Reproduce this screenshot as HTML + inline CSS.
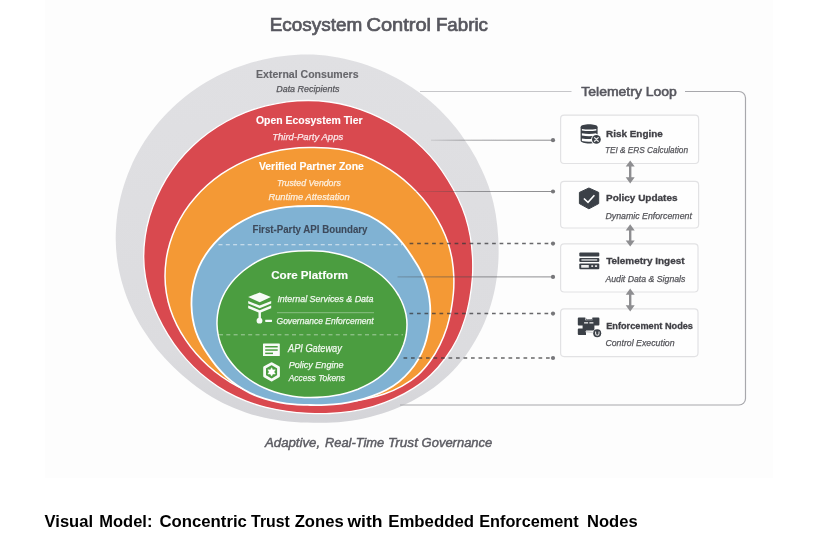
<!DOCTYPE html>
<html lang="en">
<head>
<meta charset="utf-8">
<title>Ecosystem Control Fabric</title>
<style>
html,body{margin:0;padding:0;background:#fff;}
body{width:838px;height:547px;overflow:hidden;font-family:"Liberation Sans",sans-serif;}
svg{display:block;}
</style>
</head>
<body>
<svg width="838" height="547" viewBox="0 0 838 547">
<defs><linearGradient id="gg" x1="0" y1="0" x2="0" y2="1"><stop offset="0" stop-color="#e0e0e3"/><stop offset=".8" stop-color="#dcdcdf"/><stop offset="1" stop-color="#d4d4d8"/></linearGradient><filter id="soft" x="-2%" y="-2%" width="104%" height="104%"><feGaussianBlur stdDeviation="0.4"/></filter><filter id="soft0" x="-2%" y="-20%" width="104%" height="140%"><feGaussianBlur stdDeviation="0.2"/></filter></defs>
<rect x="45" y="0" width="728" height="478" fill="#fdfdfd"/>
<g filter="url(#soft)">
<path d="M498.3 238.6C498.7 246.6 498.8 254.7 498.3 262.8C497.8 270.9 496.8 279.1 495.2 287.2C493.7 295.2 491.5 303.3 488.8 311.2C486.1 319 482.8 326.9 478.8 334.3C474.9 341.8 470.4 349.1 465.4 355.9C460.3 362.7 454.7 369.3 448.5 375.2C442.3 381.1 435.5 386.5 428.4 391.3C421.3 396.1 413.8 400.4 406 404.1C398.3 407.8 390.3 410.9 382.2 413.6C374.1 416.2 365.7 418.2 357.4 419.7C349 421.2 340.6 422.1 332.2 422.6C323.8 423 315.3 422.9 307 422.6C298.7 422.3 290.3 421.8 282.1 420.7C273.8 419.6 265.6 418.2 257.6 416C249.6 413.9 241.7 411.1 234 407.9C226.4 404.8 219 401.1 211.9 396.9C204.9 392.7 198.1 388 191.7 383C185.3 378 179.2 372.6 173.4 367C167.6 361.3 162.1 355.4 157 349.2C152 342.9 147.3 336.4 143 329.6C138.8 322.8 134.9 315.7 131.6 308.5C128.2 301.2 125.3 293.7 123 286C120.7 278.4 118.8 270.5 117.6 262.6C116.4 254.7 115.7 246.6 115.7 238.6C115.7 230.6 116.3 222.5 117.3 214.6C118.4 206.6 120.1 198.7 122.2 191C124.4 183.2 127.1 175.6 130.3 168.2C133.4 160.8 137.2 153.5 141.3 146.6C145.5 139.7 150.2 132.9 155.2 126.6C160.3 120.2 165.8 114.2 171.7 108.5C177.6 102.8 183.9 97.5 190.5 92.6C197.1 87.7 204.1 83.3 211.3 79.3C218.6 75.2 226.1 71.7 233.8 68.6C241.5 65.5 249.4 62.9 257.5 60.9C265.5 58.8 273.8 57.2 282 56.2C290.3 55.1 298.7 54.6 307 54.6C315.3 54.6 323.7 55.2 331.9 56.4C340.2 57.6 348.4 59.4 356.3 61.7C364.3 63.9 372.1 66.8 379.7 70C387.2 73.2 394.6 76.9 401.7 81C408.7 85.1 415.6 89.6 422.1 94.5C428.5 99.4 434.7 104.8 440.4 110.4C446.1 116.1 451.5 122.1 456.5 128.4C461.4 134.7 465.9 141.4 470.1 148.1C474.3 154.9 478.1 161.9 481.5 169.2C484.9 176.4 488 183.8 490.3 191.4C492.7 199 494.5 206.8 495.8 214.7C497.1 222.6 497.9 230.6 498.3 238.6Z" fill="url(#gg)"/>
<path d="M472.5 256.9C472.9 263.7 472.8 270.7 472.4 277.6C471.9 284.5 471 291.4 469.8 298.3C468.5 305.2 467 312.3 464.9 319.1C462.8 325.9 460.2 332.8 457 339.3C453.8 345.8 449.9 352.1 445.5 358C441.2 363.9 436.3 369.7 430.9 374.7C425.6 379.8 419.5 384.3 413.3 388.4C407.1 392.4 400.5 395.9 393.7 398.9C387 401.9 380 404.5 372.9 406.6C365.9 408.6 358.7 410.2 351.5 411.4C344.3 412.5 337 413.2 329.8 413.5C322.6 413.9 315.3 413.7 308.2 413.3C301.1 412.9 293.9 412.3 286.9 411.3C279.9 410.3 272.9 409 266 407.3C259.1 405.6 252.3 403.5 245.7 400.9C239.1 398.4 232.7 395.3 226.5 391.9C220.4 388.5 214.5 384.5 209 380.3C203.4 376.1 198.1 371.5 193.2 366.6C188.3 361.8 183.6 356.6 179.4 351.2C175.1 345.8 171.3 340.1 167.7 334.3C164.1 328.5 160.8 322.5 157.9 316.3C155 310.2 152.3 303.8 150.3 297.3C148.2 290.8 146.6 284.1 145.5 277.4C144.4 270.6 143.7 263.7 143.7 256.9C143.7 250.1 144.2 243.2 145.2 236.4C146.2 229.6 147.7 222.9 149.6 216.3C151.6 209.8 154 203.3 156.8 197C159.6 190.7 162.8 184.6 166.3 178.7C169.9 172.8 173.9 167.1 178.2 161.7C182.6 156.3 187.3 151.1 192.4 146.3C197.4 141.5 202.8 137 208.5 132.8C214.1 128.7 220.1 124.9 226.3 121.5C232.5 118.1 238.9 115 245.5 112.4C252.1 109.8 258.9 107.6 265.8 105.8C272.7 104.1 279.8 102.7 286.8 101.8C293.9 100.9 301.1 100.5 308.2 100.5C315.3 100.5 322.5 101 329.6 102C336.6 103 343.6 104.5 350.4 106.4C357.3 108.3 364 110.7 370.5 113.4C377 116.1 383.3 119.3 389.4 122.8C395.4 126.2 401.3 130.1 406.8 134.3C412.4 138.5 417.6 143.1 422.5 147.9C427.4 152.7 432 157.8 436.3 163.2C440.5 168.5 444.3 174.2 447.9 180C451.5 185.8 454.8 191.7 457.8 197.8C460.7 203.9 463.4 210.2 465.5 216.7C467.5 223.1 469.1 229.8 470.3 236.5C471.4 243.2 472.1 250.1 472.5 256.9Z" fill="#d9484f" stroke="#fff" stroke-width="1.3"/>
<path d="M453.8 276.3C454 281.9 453.9 287.6 453.4 293.3C452.9 299 452.1 304.7 451 310.5C449.9 316.2 448.6 322 446.8 327.7C444.9 333.4 442.7 339.2 440 344.7C437.3 350.2 434.1 355.7 430.4 360.8C426.7 365.9 422.6 370.9 417.8 375.1C413.1 379.3 407.5 383 401.9 386.1C396.3 389.3 390.3 391.8 384.2 394C378.1 396.1 371.8 397.7 365.5 399C359.2 400.3 352.8 401 346.5 401.6C340.2 402.1 333.9 402.2 327.6 402.3C321.4 402.4 315.2 402.2 309 402C302.8 401.8 296.7 401.7 290.5 401.1C284.4 400.4 278.3 399.5 272.3 398.2C266.3 396.9 260.3 395.4 254.6 393.4C248.8 391.5 243.1 389.2 237.7 386.4C232.3 383.7 227.2 380.5 222.3 377C217.4 373.6 212.7 369.9 208.4 366C204 362 199.9 357.9 196.1 353.5C192.3 349.2 188.8 344.6 185.6 339.8C182.4 335.1 179.4 330.2 176.9 325.1C174.4 320.1 172.1 314.8 170.4 309.5C168.6 304.1 167.3 298.6 166.4 293.1C165.5 287.5 165 281.9 165 276.3C165 270.7 165.4 265.1 166.2 259.5C167 253.9 168.3 248.4 169.9 243C171.5 237.6 173.6 232.2 176 227C178.4 221.9 181.2 216.8 184.3 211.9C187.4 207.1 190.9 202.4 194.8 198C198.6 193.5 202.7 189.3 207.2 185.3C211.6 181.3 216.4 177.6 221.3 174.2C226.3 170.8 231.6 167.6 237 164.8C242.4 162 248.1 159.5 253.9 157.4C259.7 155.3 265.7 153.4 271.7 152C277.8 150.5 284 149.4 290.2 148.7C296.4 148 302.7 147.7 309 147.6C315.3 147.5 321.6 147.5 327.9 148C334.2 148.4 340.5 149.1 346.6 150.5C352.7 151.9 358.7 154 364.5 156.3C370.3 158.7 375.9 161.4 381.2 164.4C386.6 167.4 391.8 170.7 396.6 174.2C401.5 177.8 406.1 181.6 410.5 185.7C414.8 189.7 418.9 194 422.7 198.4C426.4 202.9 429.9 207.6 433 212.4C436.2 217.2 439.1 222.2 441.6 227.3C444.1 232.4 446.3 237.6 448.1 243C449.8 248.4 451.1 253.9 452.1 259.5C453 265 453.6 270.7 453.8 276.3Z" fill="#f49935" stroke="#fff" stroke-width="1.5"/>
<path d="M430.1 305.5C430.4 309.9 430.3 314.3 430 318.8C429.6 323.2 428.9 327.7 428 332.2C427.1 336.7 426 341.3 424.4 345.7C422.8 350.2 421 354.7 418.5 358.9C416.1 363.1 413.2 367.2 409.9 371C406.7 374.8 403.1 378.4 399.1 381.6C395.2 384.8 390.7 387.6 386.2 390C381.6 392.4 376.8 394.4 371.9 396.2C367 398 362 399.5 356.9 400.7C351.8 401.9 346.7 402.9 341.5 403.6C336.3 404.2 331.1 404.6 325.9 404.8C320.7 405.1 315.5 405.1 310.3 405C305.1 404.9 299.9 404.9 294.8 404.4C289.6 404 284.4 403.4 279.4 402.4C274.3 401.4 269.3 400.2 264.4 398.7C259.5 397.1 254.7 395.3 250.2 393.1C245.7 390.9 241.4 388.3 237.3 385.5C233.3 382.7 229.4 379.6 225.9 376.3C222.4 373.1 219.2 369.5 216.2 365.9C213.3 362.3 210.6 358.6 208.1 354.8C205.5 351 203.1 347.3 201.1 343.3C199 339.4 197.2 335.3 195.8 331.2C194.4 327 193.4 322.7 192.7 318.5C192 314.2 191.6 309.8 191.5 305.5C191.4 301.2 191.6 296.8 192.1 292.4C192.6 288.1 193.4 283.7 194.6 279.4C195.8 275.2 197.3 270.9 199.1 266.7C201 262.6 203.2 258.5 205.8 254.6C208.3 250.7 211.2 247 214.4 243.4C217.6 239.9 221.1 236.5 224.8 233.3C228.5 230.2 232.5 227.2 236.7 224.5C240.9 221.9 245.3 219.3 249.9 217.2C254.4 215 259.3 213.2 264.2 211.7C269.1 210.2 274.2 209.1 279.3 208.2C284.4 207.3 289.6 206.8 294.7 206.4C299.9 206 305.1 206 310.3 206C315.5 206 320.7 205.9 325.9 206.1C331.1 206.4 336.3 206.8 341.4 207.6C346.6 208.5 351.7 209.7 356.6 211.2C361.5 212.8 366.4 214.5 370.9 216.8C375.4 219.1 379.8 221.9 383.7 224.8C387.7 227.8 391.4 231.1 394.8 234.5C398.2 238 401.2 241.7 404.1 245.3C406.9 249 409.5 252.8 411.9 256.6C414.4 260.4 416.9 264.1 419 267.9C421.1 271.8 423 275.8 424.6 279.9C426.1 284 427.3 288.2 428.3 292.5C429.2 296.8 429.8 301.1 430.1 305.5Z" fill="#80b2d3" stroke="#fff" stroke-width="1.8"/>
<path d="M407 324.4C407 327.7 406.7 331.1 406.2 334.5C405.6 337.8 404.8 341.1 403.7 344.3C402.5 347.5 401.2 350.7 399.5 353.8C397.9 356.9 396 359.9 393.9 362.8C391.8 365.6 389.3 368.4 386.7 371C384.1 373.5 381.2 375.9 378.2 378.1C375.1 380.3 371.8 382.4 368.5 384.2C365.1 386.1 361.5 387.7 357.9 389.2C354.2 390.6 350.4 391.9 346.6 392.9C342.7 394 338.8 394.9 334.8 395.6C330.8 396.3 326.8 396.8 322.7 397.1C318.7 397.5 314.6 397.6 310.5 397.6C306.4 397.6 302.3 397.4 298.3 397C294.3 396.6 290.2 395.9 286.3 395.1C282.4 394.3 278.5 393.2 274.7 392C271 390.8 267.3 389.4 263.8 387.8C260.2 386.2 256.8 384.4 253.6 382.4C250.4 380.4 247.4 378.3 244.5 376C241.7 373.7 239 371.3 236.5 368.8C234.1 366.2 231.8 363.6 229.8 360.8C227.7 358.1 225.9 355.2 224.4 352.3C222.8 349.3 221.5 346.3 220.4 343.3C219.4 340.2 218.5 337.1 218 333.9C217.4 330.8 217.1 327.6 217 324.4C216.9 321.2 217.1 318 217.5 314.8C217.9 311.6 218.6 308.4 219.5 305.2C220.4 302.1 221.6 298.9 223.1 295.9C224.6 292.8 226.3 289.8 228.3 286.9C230.3 284 232.6 281.2 235 278.6C237.5 275.9 240.2 273.4 243.1 271C246 268.6 249.1 266.4 252.4 264.3C255.7 262.3 259.1 260.4 262.8 258.8C266.4 257.2 270.2 255.9 274.1 254.8C277.9 253.7 282 252.9 286 252.3C290 251.7 294.1 251.3 298.2 251C302.3 250.8 306.4 250.7 310.5 250.7C314.6 250.7 318.7 250.9 322.8 251.3C326.8 251.7 330.9 252.4 334.8 253.2C338.7 254 342.7 255.1 346.4 256.3C350.2 257.5 353.9 259 357.5 260.6C361 262.1 364.4 263.9 367.7 265.8C371 267.7 374.2 269.8 377.1 272C380.1 274.2 382.9 276.5 385.5 279C388.1 281.5 390.5 284.2 392.7 286.9C394.9 289.7 396.8 292.5 398.6 295.5C400.3 298.5 401.9 301.5 403.1 304.7C404.3 307.8 405.3 311.1 406 314.4C406.6 317.7 407 321.1 407 324.4Z" fill="#4b9d40" stroke="#fff" stroke-width="1.5"/>
<path d="M420 91.5 H571.5" fill="none" stroke="#c6c6c9" stroke-width="1.2"/>
<path d="M685 91.5 H739 a6.5 6.5 0 0 1 6.5 6.5 V398.5 a6.5 6.5 0 0 1 -6.5 6.5 H400" fill="none" stroke="#a8a8ac" stroke-width="1.2"/>
<defs><linearGradient id="f1" gradientUnits="userSpaceOnUse" x1="430" y1="0" x2="553" y2="0"><stop offset="0" stop-color="#48484c" stop-opacity=".15"/><stop offset=".35" stop-color="#48484c" stop-opacity=".5"/><stop offset="1" stop-color="#48484c" stop-opacity=".62"/></linearGradient><linearGradient id="f2" gradientUnits="userSpaceOnUse" x1="414" y1="0" x2="553" y2="0"><stop offset="0" stop-color="#48484c" stop-opacity=".1"/><stop offset=".4" stop-color="#48484c" stop-opacity=".5"/><stop offset="1" stop-color="#48484c" stop-opacity=".62"/></linearGradient><linearGradient id="f3" gradientUnits="userSpaceOnUse" x1="396" y1="0" x2="553" y2="0"><stop offset="0" stop-color="#48484c" stop-opacity=".35"/><stop offset=".3" stop-color="#48484c" stop-opacity=".55"/><stop offset="1" stop-color="#48484c" stop-opacity=".62"/></linearGradient></defs>
<g fill="none">
<rect x="431" y="139.7" width="122" height="1" fill="url(#f1)"/>
<rect x="415" y="191" width="138" height="1" fill="url(#f2)"/>
<rect x="397.5" y="276.4" width="155.5" height="1" fill="url(#f3)"/>
</g>
<g stroke="#38383c" stroke-opacity=".76" stroke-width="1.5" fill="none" stroke-dasharray="3.7 3.8">
<path d="M409.6 243.6 H553"/>
<path d="M409.5 313.6 H553"/>
<path d="M403.5 358 H553"/>
</g>
<g stroke="#fff" fill="none" stroke-dasharray="4 3.3">
<path d="M218.5 244.7 H402" stroke-opacity=".7" stroke-width="1.1"/>
<path d="M219 334.8 H403" stroke-opacity=".5" stroke-width="1"/>
</g>
<path d="M277 312.7 H374" stroke="#fff" stroke-opacity=".35" stroke-width="1"/>
<g fill="#77777a">
<circle cx="553" cy="140.2" r="2.1"/>
<circle cx="553" cy="191.5" r="2.1"/>
<circle cx="553" cy="243.6" r="2.1"/>
<circle cx="553" cy="276.9" r="2.1"/>
<circle cx="553" cy="313.6" r="2.1"/>
<circle cx="553" cy="358" r="2.1"/>
</g>
<rect x="560.6" y="115.2" width="138" height="48.3" rx="3.5" fill="#fefefe" stroke="#e2e2e4" stroke-width="1.2"/>
<rect x="560.6" y="181.3" width="138" height="46.7" rx="3.5" fill="#fefefe" stroke="#e2e2e4" stroke-width="1.2"/>
<rect x="560.6" y="243.8" width="137.4" height="48.2" rx="3.5" fill="#fefefe" stroke="#e2e2e4" stroke-width="1.2"/>
<rect x="560.6" y="308.9" width="137.4" height="47.7" rx="3.5" fill="#fefefe" stroke="#e2e2e4" stroke-width="1.2"/>
<path d="M630.2 160.4 l4.5 6.2 h-3.3 V177.20000000000002 h3.3 L630.2 183.4 l-4.5 -6.2 h3.3 V166.6 h-3.3 Z" fill="#8e8e91"/>
<path d="M630.2 224.3 l4.5 6.2 h-3.3 V240.4 h3.3 L630.2 246.6 l-4.5 -6.2 h3.3 V230.5 h-3.3 Z" fill="#8e8e91"/>
<path d="M630.2 288.5 l4.5 6.2 h-3.3 V305.3 h3.3 L630.2 311.5 l-4.5 -6.2 h3.3 V294.7 h-3.3 Z" fill="#8e8e91"/>
<g><path d="M580.6 127.2 C580.6 123.4 597.6 123.4 597.6 127.2 V140.6 C597.6 144.6 580.6 144.6 580.6 140.6 Z" fill="#3b4047"/><path d="M581.9 128.9 Q589.1 130.3 596.3 128.9 V130.4 Q589.1 131.8 581.9 130.4 Z" fill="#fff"/><path d="M581.9 133.2 Q589.1 134.6 596.3 133.2 V135.6 Q589.1 137 581.9 135.6 Z" fill="#fff"/><path d="M581.9 138.4 Q589.1 139.8 596.3 138.4 V141 Q589.1 142.4 581.9 141 Z" fill="#fff"/><circle cx="596.4" cy="139.4" r="5.3" fill="#fff"/><circle cx="596.4" cy="139.4" r="4.4" fill="#3b4047"/><path d="M594.6 137.6 L598.2 141.2 M598.2 137.6 L594.6 141.2" stroke="#e8e8e8" stroke-width="1.3" stroke-linecap="round"/></g>
<g><path d="M588.9 188 L598.7 192.4 V203.6 L588.9 208.8 L579.4 203.6 V192.4 Z" fill="#3b4047" stroke="#3b4047" stroke-width="1" stroke-linejoin="round"/><path d="M583.9 198.5 L588 202.3 L594.4 195.3" fill="none" stroke="#fff" stroke-width="1.6"/></g>
<g><rect x="579.3" y="252.6" width="20" height="3.9" rx="1" fill="#3b4047"/><rect x="579.3" y="257.9" width="20" height="4.1" rx="1" fill="#3b4047"/><rect x="581.4" y="259.2" width="15.8" height="1.5" fill="#cfd0d2"/><rect x="579.3" y="263.6" width="20" height="5.6" rx="1" fill="#3b4047"/><rect x="581.2" y="265" width="7.6" height="2.7" fill="#eee"/><rect x="591.3" y="265.2" width="1.8" height="1.8" fill="#ddd"/><rect x="594.9" y="265.2" width="2.2" height="1.8" fill="#ddd"/></g>
<g><path d="M578.8 317.5 H585.3 V320.3 H592.4 V317.5 H598.4 a1 1 0 0 1 1 1 V324.4 a1 1 0 0 1 -1 1 H594.4 V330.6 H586 V334.9 H578.8 a1 1 0 0 1 -1 -1 V329.6 a1 1 0 0 1 1 -1 H582.6 V325.4 H578.8 a1 1 0 0 1 -1 -1 V318.5 a1 1 0 0 1 1 -1 Z" fill="#3b4047"/><rect x="584.1" y="322.2" width="4" height="1.3" fill="#eee"/><rect x="589.4" y="322.2" width="4" height="1.3" fill="#eee"/><path d="M586 318.6 q0 1.2 1.2 1.2 h4 q1.2 0 1.2 -1.2" fill="none" stroke="#3b4047" stroke-width="0.9"/><path d="M585.5 331.6 L593 332.6" stroke="#cfd0d2" stroke-width="1.2"/><circle cx="597.2" cy="333.3" r="4.6" fill="#fff"/><circle cx="597.2" cy="333.3" r="4" fill="#3b4047"/><path d="M595.6 331.6 V333.4 Q595.6 335.3 597.3 335.3 Q599 335.3 599 333.4 V331.6" fill="none" stroke="#e6e6e6" stroke-width="1.1"/></g>
<g fill="#fff" stroke="none" opacity=".96"><path d="M259.7 292.4 L270.9 297.1 L259.7 302.2 L248.2 297.1 Z"/><path d="M248.2 300.9 L259.7 305.6 L271.2 300.9 V303.5 L259.7 308.3 L248.2 303.5 Z"/><path d="M248.2 305.6 L259.7 310.2 L271.2 305.6 V308.2 L260.9 312.4 V319 H258.5 V312.4 L248.2 308.2 Z"/><circle cx="259.5" cy="320.7" r="2.9"/><rect x="265.2" y="319.7" width="6.8" height="2.2" rx=".4"/></g>
<g><rect x="263" y="343.4" width="16.8" height="12.6" rx=".6" fill="#fff" opacity=".96"/><g fill="#4b9d40"><rect x="265.2" y="346" width="12.5" height="1.5"/><rect x="265.2" y="349.3" width="12.5" height="1.5"/><rect x="265.2" y="352.6" width="7.8" height="1.5"/></g><path d="M271.6 363.6 L278.5 367.5 V376 L271.6 380.1 L264.6 376 V367.5 Z" fill="none" stroke="#fff" stroke-width="2.8" stroke-linejoin="round" opacity=".96"/><path d="M271.6 367.7 L272.8 369.9 L275.3 369.8 L274 371.9 L275.3 374 L272.8 373.9 L271.6 376.1 L270.4 373.9 L267.9 374 L269.2 371.9 L267.9 369.8 L270.4 369.9 Z" fill="#fff" stroke="#fff" stroke-width=".5" stroke-linejoin="round"/></g>
<g font-family="'Liberation Sans', sans-serif">
<text y="31.2" font-size="18.2" font-weight="normal" font-style="normal" fill="#58585f" stroke="#58585f" stroke-width="0.7"><tspan x="269.7" textLength="92.5" lengthAdjust="spacingAndGlyphs">Ecosystem</tspan> <tspan x="366.4" textLength="64.7" lengthAdjust="spacingAndGlyphs">Control</tspan> <tspan x="435.9" textLength="52.1" lengthAdjust="spacingAndGlyphs">Fabric</tspan></text>
<text x="256.0" y="77.8" font-size="10.4" font-weight="bold" font-style="normal" fill="#66666b" text-anchor="start" textLength="102.6" lengthAdjust="spacingAndGlyphs" stroke="#66666b" stroke-width="0.12">External Consumers</text>
<text x="276.2" y="92.1" font-size="9.0" font-weight="normal" font-style="italic" fill="#55555a" text-anchor="start" textLength="63.2" lengthAdjust="spacingAndGlyphs" stroke="#55555a" stroke-width="0.25">Data Recipients</text>
<text x="256.0" y="124.0" font-size="10.4" font-weight="bold" font-style="normal" fill="#fff" text-anchor="start" textLength="106.6" lengthAdjust="spacingAndGlyphs" stroke="#fff" stroke-width="0.12">Open Ecosystem Tier</text>
<text x="272.2" y="140.0" font-size="9.4" font-weight="normal" font-style="italic" fill="#fbe9ea" text-anchor="start" textLength="71.0" lengthAdjust="spacingAndGlyphs" stroke="#fbe9ea" stroke-width="0.25">Third-Party Apps</text>
<text x="258.9" y="169.5" font-size="10.4" font-weight="bold" font-style="normal" fill="#fff" text-anchor="start" textLength="105.0" lengthAdjust="spacingAndGlyphs" stroke="#fff" stroke-width="0.12">Verified Partner Zone</text>
<text x="277.0" y="185.8" font-size="8.9" font-weight="normal" font-style="italic" fill="#fdf0df" text-anchor="start" textLength="63.8" lengthAdjust="spacingAndGlyphs" stroke="#fdf0df" stroke-width="0.25">Trusted Vendors</text>
<text x="268.4" y="200.1" font-size="9.3" font-weight="normal" font-style="italic" fill="#fdf0df" text-anchor="start" textLength="81.4" lengthAdjust="spacingAndGlyphs" stroke="#fdf0df" stroke-width="0.25">Runtime Attestation</text>
<text x="252.5" y="233.2" font-size="10.2" font-weight="bold" font-style="normal" fill="#3c4a5b" text-anchor="start" textLength="115.0" lengthAdjust="spacingAndGlyphs" stroke="#3c4a5b" stroke-width="0.12">First-Party API Boundary</text>
<text x="271.2" y="279.4" font-size="11.8" font-weight="bold" font-style="normal" fill="#fff" text-anchor="start" textLength="76.8" lengthAdjust="spacingAndGlyphs" stroke="#fff" stroke-width="0.12">Core Platform</text>
<text x="277.4" y="302.3" font-size="9.3" font-weight="normal" font-style="italic" fill="#f1f8ef" text-anchor="start" textLength="96.1" lengthAdjust="spacingAndGlyphs" stroke="#f1f8ef" stroke-width="0.25">Internal Services &amp; Data</text>
<text x="276.5" y="323.9" font-size="9.2" font-weight="normal" font-style="italic" fill="#f1f8ef" text-anchor="start" textLength="97.1" lengthAdjust="spacingAndGlyphs" stroke="#f1f8ef" stroke-width="0.25">Governance Enforcement</text>
<text x="288.0" y="352.2" font-size="10.2" font-weight="normal" font-style="italic" fill="#f1f8ef" text-anchor="start" textLength="53.8" lengthAdjust="spacingAndGlyphs" stroke="#f1f8ef" stroke-width="0.25">API Gateway</text>
<text x="288.7" y="367.5" font-size="9.9" font-weight="normal" font-style="italic" fill="#f1f8ef" text-anchor="start" textLength="54.8" lengthAdjust="spacingAndGlyphs" stroke="#f1f8ef" stroke-width="0.25">Policy Engine</text>
<text x="288.7" y="381.0" font-size="9.7" font-weight="normal" font-style="italic" fill="#f1f8ef" text-anchor="start" textLength="56.3" lengthAdjust="spacingAndGlyphs" stroke="#f1f8ef" stroke-width="0.25">Access Tokens</text>
<text y="446.5" font-size="12.9" font-weight="normal" font-style="italic" fill="#5c5c63" stroke="#5c5c63" stroke-width="0.45"><tspan x="265.0" textLength="55.1" lengthAdjust="spacingAndGlyphs">Adaptive,</tspan> <tspan x="324.9" textLength="59.4" lengthAdjust="spacingAndGlyphs">Real-Time</tspan> <tspan x="388.0" textLength="29.9" lengthAdjust="spacingAndGlyphs">Trust</tspan> <tspan x="421.6" textLength="70.7" lengthAdjust="spacingAndGlyphs">Governance</tspan></text>
<text x="581.3" y="96.3" font-size="12.1" font-weight="normal" font-style="normal" fill="#58585f" text-anchor="start" textLength="95.6" lengthAdjust="spacingAndGlyphs" stroke="#58585f" stroke-width="0.55">Telemetry Loop</text>
<text x="606.0" y="136.6" font-size="9.9" font-weight="bold" font-style="normal" fill="#404046" text-anchor="start" textLength="56.8" lengthAdjust="spacingAndGlyphs" stroke="#404046" stroke-width="0.3">Risk Engine</text>
<text x="604.9" y="152.6" font-size="8.9" font-weight="normal" font-style="italic" fill="#55555a" text-anchor="start" textLength="83.1" lengthAdjust="spacingAndGlyphs" stroke="#55555a" stroke-width="0.25">TEI &amp; ERS Calculation</text>
<text x="606.0" y="200.9" font-size="9.9" font-weight="bold" font-style="normal" fill="#404046" text-anchor="start" textLength="71.5" lengthAdjust="spacingAndGlyphs" stroke="#404046" stroke-width="0.3">Policy Updates</text>
<text x="605.4" y="218.7" font-size="9.0" font-weight="normal" font-style="italic" fill="#55555a" text-anchor="start" textLength="86.5" lengthAdjust="spacingAndGlyphs" stroke="#55555a" stroke-width="0.25">Dynamic Enforcement</text>
<text x="606.2" y="264.1" font-size="9.9" font-weight="bold" font-style="normal" fill="#404046" text-anchor="start" textLength="78.4" lengthAdjust="spacingAndGlyphs" stroke="#404046" stroke-width="0.3">Telemetry Ingest</text>
<text x="605.4" y="281.9" font-size="9.0" font-weight="normal" font-style="italic" fill="#55555a" text-anchor="start" textLength="80.0" lengthAdjust="spacingAndGlyphs" stroke="#55555a" stroke-width="0.25">Audit Data &amp; Signals</text>
<text x="606.2" y="329.1" font-size="9.5" font-weight="bold" font-style="normal" fill="#404046" text-anchor="start" textLength="86.8" lengthAdjust="spacingAndGlyphs" stroke="#404046" stroke-width="0.3">Enforcement Nodes</text>
<text x="605.4" y="345.6" font-size="9.0" font-weight="normal" font-style="italic" fill="#55555a" text-anchor="start" textLength="69.2" lengthAdjust="spacingAndGlyphs" stroke="#55555a" stroke-width="0.25">Control Execution</text>
</g>
</g>
<g font-family="'Liberation Sans', sans-serif" filter="url(#soft0)">
<text y="526.5" font-size="16.8" font-weight="bold" font-style="normal" fill="#000"><tspan x="44.6" textLength="48.4" lengthAdjust="spacingAndGlyphs">Visual</tspan> <tspan x="99.3" textLength="53.1" lengthAdjust="spacingAndGlyphs">Model:</tspan> <tspan x="159.4" textLength="87.5" lengthAdjust="spacingAndGlyphs">Concentric</tspan> <tspan x="251.1" textLength="38.7" lengthAdjust="spacingAndGlyphs">Trust</tspan> <tspan x="294.7" textLength="49.0" lengthAdjust="spacingAndGlyphs">Zones</tspan> <tspan x="347.4" textLength="35.1" lengthAdjust="spacingAndGlyphs">with</tspan> <tspan x="388.2" textLength="85.8" lengthAdjust="spacingAndGlyphs">Embedded</tspan> <tspan x="479.2" textLength="99.5" lengthAdjust="spacingAndGlyphs">Enforcement</tspan> <tspan x="587.0" textLength="50.6" lengthAdjust="spacingAndGlyphs">Nodes</tspan></text>
</g>
</svg>
</body>
</html>
